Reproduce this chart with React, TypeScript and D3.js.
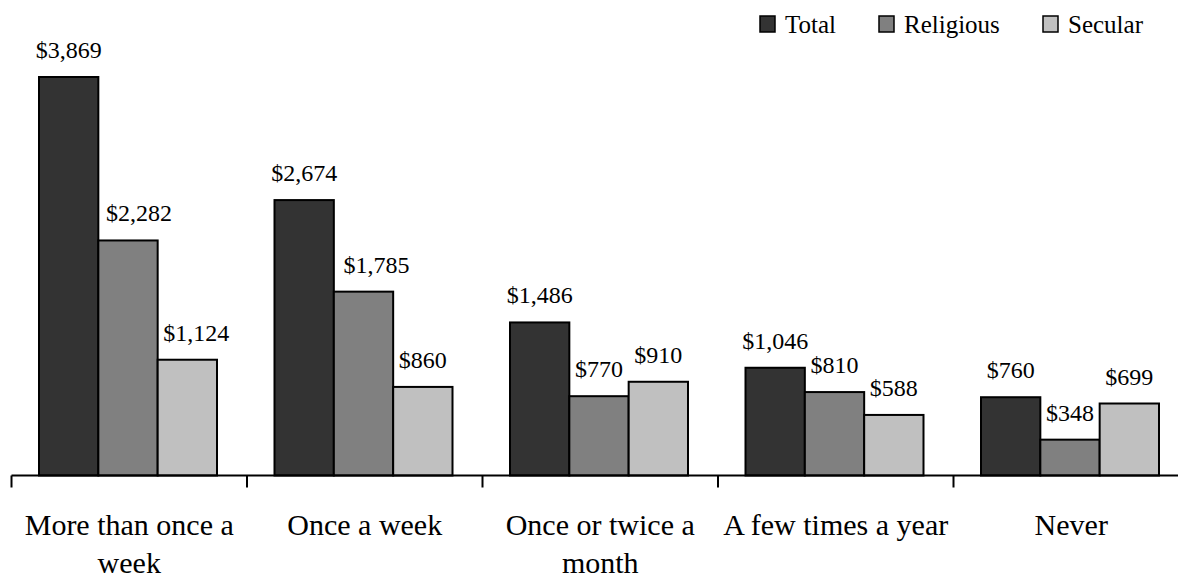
import React from "react";
import * as d3 from "d3";

const categories = ["More than once a week", "Once a week", "Once or twice a month", "A few times a year", "Never"];
const categoryLines = [["More than once a", "week"], ["Once a week"], ["Once or twice a", "month"], ["A few times a year"], ["Never"]];
const seriesNames = ["Total", "Religious", "Secular"];
const totalValues = [3869, 2674, 1486, 1046, 760];
const religiousValues = [2282, 1785, 770, 810, 348];
const secularValues = [1124, 860, 910, 588, 699];
const colors = ["#333333", "#808080", "#c0c0c0"];

// label nudges (style only), keyed "category-series"
const labelDx: Record<string, number> = { "0-1": 11, "0-2": 9, "1-1": 13 };

const W = 1178, H = 578;
const FONT = "Liberation Serif, Tinos, DejaVu Serif, Times New Roman, serif";
const BAND = 235.5;

export default function App() {
  const series = [totalValues, religiousValues, secularValues];
  const x0 = d3.scaleBand<string>().domain(categories).range([11.5, 11.5 + BAND * 5]).paddingInner(0).paddingOuter(0);
  const x1 = d3.scaleBand<string>().domain(seriesNames).range([27.5, BAND - 30]).padding(0);
  const y = d3.scaleLinear().domain([0, 3869]).range([475.5, 77]);
  const fmt = (v: number) => "$" + d3.format(",")(v);
  const baseY = y(0);

  const legendX = [760, 879, 1043];

  return (
    <svg width={W} height={H} style={{ position: "fixed", left: 0, top: 0, background: "#fff", fontFamily: FONT }}>
      {categories.map((c, ci) =>
        series.map((vals, si) => {
          const v = vals[ci];
          const bx = (x0(c) as number) + (x1(seriesNames[si]) as number);
          const bw = x1.bandwidth();
          const top = y(v);
          return (
            <g key={c + si}>
              <rect x={bx} y={top} width={bw} height={baseY - top} fill={colors[si]} stroke="#000" strokeWidth={2} />
              <text x={bx + bw / 2 + (labelDx[`${ci}-${si}`] || 0)} y={top - 19} textAnchor="middle" fontSize={24} fill="#000" style={{ fontFamily: FONT }}>
                {fmt(v)}
              </text>
            </g>
          );
        })
      )}
      <line x1={x0(categories[0])} x2={W} y1={baseY} y2={baseY} stroke="#000" strokeWidth={2} />
      {categories.map((c) => (
        <line key={"t" + c} x1={x0(c)} x2={x0(c)} y1={baseY} y2={baseY + 12} stroke="#000" strokeWidth={2} />
      ))}
      {categories.map((c, ci) => (
        <text key={"l" + c} x={(x0(c) as number) + x0.bandwidth() / 2} textAnchor="middle" fontSize={30} fill="#000" style={{ fontFamily: FONT }}>
          {categoryLines[ci].map((ln, li) => (
            <tspan key={li} x={(x0(c) as number) + x0.bandwidth() / 2} y={535 + li * 38}>
              {ln}
            </tspan>
          ))}
        </text>
      ))}
      {seriesNames.map((s, si) => (
        <g key={"lg" + s}>
          <rect x={legendX[si]} y={16} width={15} height={16} fill={colors[si]} stroke="#000" strokeWidth={1.5} />
          <text x={legendX[si] + 25} y={33} fontSize={25} fill="#000" style={{ fontFamily: FONT }}>
            {s}
          </text>
        </g>
      ))}
    </svg>
  );
}
